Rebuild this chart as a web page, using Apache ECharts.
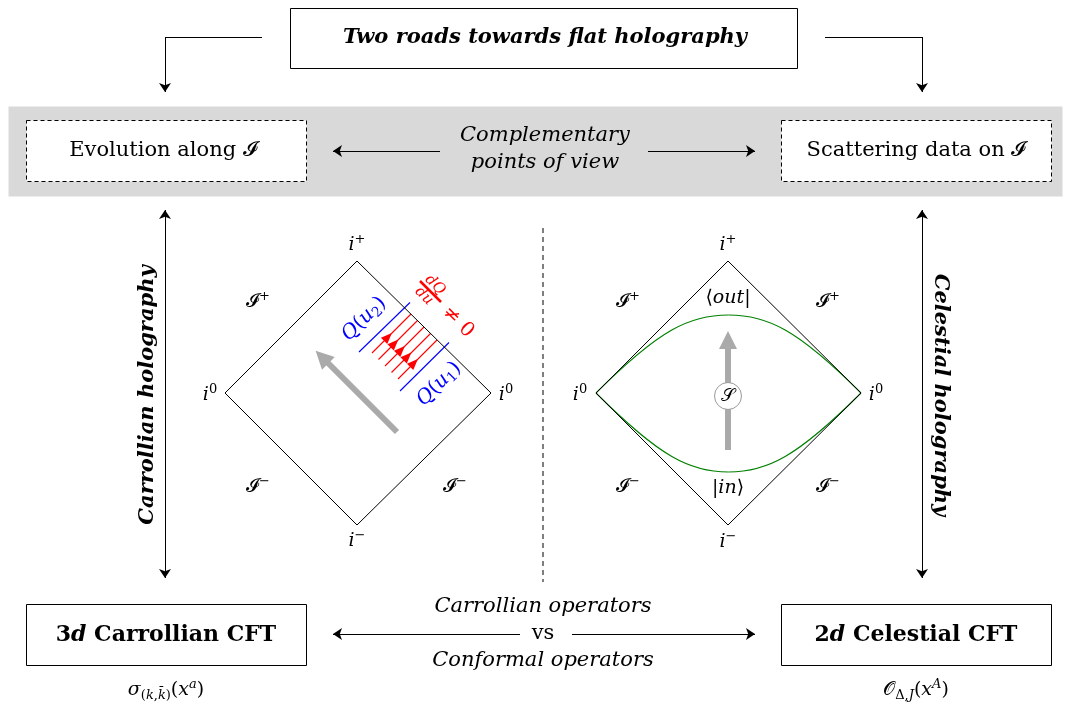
<!DOCTYPE html>
<html>
<head>
<meta charset="utf-8">
<script src="https://cdn.jsdelivr.net/npm/echarts@6/dist/echarts.min.js"></script>
<style>
  html, body { margin: 0; padding: 0; background: #fff; }
  #chart { width: 1070px; height: 706px; }
</style>
</head>
<body>
<div id="chart"></div>
<script>
// boxes: [x0, y0, x1, y1] in picture units
const bandBoxes = [[8, 106, 1062, 196]];
const solidBoxes = [[290, 8, 797, 68], [26, 604, 306, 665], [781, 604, 1051, 665]];
const dashedBoxes = [[26, 120, 306, 181], [781, 120, 1051, 181]];

// plain segments and arrows: [[x, y], [x, y]]
const plainSegments = [
  [[262, 37], [165, 37]],
  [[825, 37], [922, 37]]
];
const singleArrows = [
  [[165, 37], [165, 92]],
  [[922, 37], [922, 92]],
  [[440, 151], [333, 151]],
  [[648, 151], [755, 151]],
  [[520, 634], [333, 634]],
  [[572, 634], [755, 634]]
];
const doubleArrows = [
  [[165, 210], [165, 578]],
  [[922, 210], [922, 578]]
];
const dividerLine = [[543, 228], [543, 582]];

// Penrose diamonds
const leftDiamond = [[357, 261], [491, 393], [357, 525], [225, 393], [357, 261]];
const rightDiamond = [[728, 261], [861, 393], [728, 525], [596, 393], [728, 261]];
// lens (bezier pieces): [x0, y0, cx1, cy1, cx2, cy2, x1, y1]
const lensPieces = [
  [596, 393, 660, 329, 690, 315, 728.5, 315],
  [728.5, 315, 767, 315, 797, 329, 861, 393],
  [596, 393, 660, 457, 690, 472, 728.5, 472],
  [728.5, 472, 767, 472, 797, 457, 861, 393]
];

// flux lines between the two cuts
const fieldLines = [
  [[372, 353], [411, 314]],
  [[378.5, 359.5], [417.5, 320.5]],
  [[385, 366], [424, 327]],
  [[391.5, 372.5], [430.5, 333.5]],
  [[398, 379], [437, 340]]
];
const fieldArrowHeads = [[388, 337], [394.5, 343.5], [401, 350], [407.5, 356.5], [414, 363]];
const cutLines = [
  [[359, 352], [410, 302.5]],
  [[400, 391], [449, 342.5]]
];
const fractionBar = [[[420, 281], [441, 302]]];

const greyArrows = [
  [[397, 432], [322, 357]],
  [[728, 450], [728, 340]]
];
const sMatrix = [[728, 396]];

// texts: [x, y, text, role]
const texts = [
  [545, 38, '{t|Two roads towards flat holography}', 'title'],
  [163, 151, '{r|Evolution along }{cal|𝓘}', 'body'],
  [916, 151, '{r|Scattering data on }{cal|𝓘}', 'body'],
  [545, 136, '{m|Complementary}', 'ital'],
  [545, 163, '{m|points of view}', 'ital'],
  [543, 607, '{m|Carrollian operators}', 'ital'],
  [543, 634, '{r|vs}', 'body'],
  [543, 661, '{m|Conformal operators}', 'ital'],
  [166, 635, '{b|3}{bi|d}{b| Carrollian CFT}', 'bold'],
  [916, 635, '{b|2}{bi|d}{b| Celestial CFT}', 'bold'],
  [166, 690, '{m|σ}{subr|(}{subi|k}{subr|,}{subi|k̄}{subr|)}{r|(}{m|x}{supi|a}{r|)}', 'math'],
  [916, 690, '{cal|𝒪}{subr|Δ,}{subi|J}{r|(}{m|x}{supi|A}{r|)}', 'math'],
  [148, 395, '{t|Carrollian holography}', 'up'],
  [940, 395, '{t|Celestial holography}', 'down'],
  // left diamond
  [357, 245, '{m|i}{supr|+}', 'math'],
  [210, 395, '{m|i}{supr|0}', 'math'],
  [506, 395, '{m|i}{supr|0}', 'math'],
  [357, 541, '{m|i}{supr|−}', 'math'],
  [258, 302, '{cal|𝓘}{supr|+}', 'math'],
  [258, 487, '{cal|𝓘}{supr|−}', 'math'],
  [455, 487, '{cal|𝓘}{supr|−}', 'math'],
  [364, 319, '{m|Q}{r|(}{m|u}{subr|2}{r|)}', 'blue'],
  [439, 384, '{m|Q}{r|(}{m|u}{subr|1}{r|)}', 'blue'],
  [435, 285, '{fr|dQ}', 'red'],
  [424, 296, '{fr|du}', 'red'],
  [458, 322, '{r|≠ 0}', 'red'],
  // right diamond
  [728, 245, '{m|i}{supr|+}', 'math'],
  [580, 395, '{m|i}{supr|0}', 'math'],
  [876, 395, '{m|i}{supr|0}', 'math'],
  [728, 542, '{m|i}{supr|−}', 'math'],
  [628, 302, '{cal|𝓘}{supr|+}', 'math'],
  [828, 302, '{cal|𝓘}{supr|+}', 'math'],
  [628, 487, '{cal|𝓘}{supr|−}', 'math'],
  [828, 487, '{cal|𝓘}{supr|−}', 'math'],
  [728, 298, '{r|⟨}{m|out}{r||}', 'math'],
  [728, 488, '{r||}{m|in}{r|⟩}', 'math']
];

const FONT = '"DejaVu Serif", "Liberation Serif", serif';
const CAL = '"DejaVu Sans", "DejaVu Serif", serif';

const roles = {
  title: { fontSize: 21, color: '#000', rotate: 0 },
  body: { fontSize: 21, color: '#000', rotate: 0 },
  bold: { fontSize: 22, color: '#000', rotate: 0 },
  ital: { fontSize: 21, color: '#000', rotate: 0 },
  math: { fontSize: 19, color: '#000', rotate: 0 },
  up: { fontSize: 21, color: '#000', rotate: 90 },
  down: { fontSize: 21, color: '#000', rotate: -90 },
  blue: { fontSize: 20, color: '#0000ff', rotate: 45 },
  red: { fontSize: 20, color: '#ff0000', rotate: -45 }
};

// rich token styles, coloured per role
function richFor(size, color) {
  const sub = Math.round(size * 0.68);
  const base = { fontFamily: FONT, fontSize: size, lineHeight: 24, color: color };
  const mk = o => Object.assign({}, base, o);
  return {
    t: mk({ fontStyle: 'italic', fontWeight: 'bold' }),
    m: mk({ fontStyle: 'italic', fontWeight: 'normal' }),
    r: mk({ fontStyle: 'normal', fontWeight: 'normal' }),
    b: mk({ fontStyle: 'normal', fontWeight: 'bold' }),
    bi: mk({ fontStyle: 'italic', fontWeight: 'bold' }),
    cal: mk({ fontStyle: 'normal', fontWeight: 'normal', fontFamily: CAL }),
    fr: mk({ fontStyle: 'italic', fontSize: 15, lineHeight: 15 }),
    supr: mk({ fontStyle: 'normal', fontSize: sub, lineHeight: 14, verticalAlign: 'top' }),
    supi: mk({ fontStyle: 'italic', fontSize: sub, lineHeight: 14, verticalAlign: 'top' }),
    subr: mk({ fontStyle: 'normal', fontSize: sub, lineHeight: 10, verticalAlign: 'bottom' }),
    subi: mk({ fontStyle: 'italic', fontSize: sub, lineHeight: 10, verticalAlign: 'bottom' })
  };
}

function rectSeries(boxes, style, z) {
  return {
    type: 'custom',
    coordinateSystem: 'cartesian2d',
    silent: true,
    z: z,
    encode: { x: [0, 2], y: [1, 3] },
    data: boxes,
    renderItem: (params, api) => {
      const p0 = api.coord([api.value(0), api.value(1)]);
      const p1 = api.coord([api.value(2), api.value(3)]);
      return {
        type: 'rect',
        shape: { x: p0[0] + 0.5, y: p0[1] + 0.5, width: p1[0] - p0[0], height: p1[1] - p0[1] },
        style: style
      };
    }
  };
}

function bezierSeries(pieces, color, width) {
  return {
    type: 'custom',
    coordinateSystem: 'cartesian2d',
    silent: true,
    z: 3,
    encode: { x: [0, 6], y: [1, 7] },
    data: pieces,
    renderItem: (params, api) => {
      const a = api.coord([api.value(0), api.value(1)]);
      const c1 = api.coord([api.value(2), api.value(3)]);
      const c2 = api.coord([api.value(4), api.value(5)]);
      const b = api.coord([api.value(6), api.value(7)]);
      return {
        type: 'bezierCurve',
        shape: { x1: a[0], y1: a[1], cpx1: c1[0], cpy1: c1[1], cpx2: c2[0], cpy2: c2[1], x2: b[0], y2: b[1] },
        style: { stroke: color, lineWidth: width, fill: null }
      };
    }
  };
}

function segSeries(segs, color, width, symbol, size, z) {
  return {
    type: 'lines',
    coordinateSystem: 'cartesian2d',
    silent: true,
    z: z || 3,
    symbol: symbol || ['none', 'none'],
    symbolSize: size || 9,
    lineStyle: { color: color, width: width, opacity: 1, curveness: 0 },
    data: segs.map(c => ({ coords: c }))
  };
}

function pathSeries(points, color, width, opts) {
  return Object.assign({
    type: 'line',
    silent: true,
    z: 3,
    showSymbol: false,
    symbol: 'none',
    lineStyle: { color: color, width: width },
    data: points
  }, opts || {});
}

const textSeries = {
  type: 'scatter',
  silent: true,
  z: 10,
  symbolSize: 0,
  data: texts.map(t => {
    const r = roles[t[3]];
    return {
      value: [t[0], t[1]],
      label: {
        show: true,
        position: 'inside',
        formatter: t[2],
        fontFamily: FONT,
        fontSize: r.fontSize,
        color: r.color,
        opacity: 1,
        textBorderWidth: 0,
        rotate: r.rotate,
        lineHeight: 24,
        align: 'center',
        verticalAlign: 'middle',
        rich: richFor(r.fontSize, r.color)
      }
    };
  })
};

const chart = echarts.init(document.getElementById('chart'), null, { renderer: 'canvas' });
chart.setOption({
  animation: false,
  backgroundColor: '#fff',
  grid: { left: 0, right: 0, top: 0, bottom: 0 },
  xAxis: { type: 'value', min: 0, max: 1070, show: false },
  yAxis: { type: 'value', min: 0, max: 706, inverse: true, show: false },
  series: [
    rectSeries(bandBoxes, { fill: '#d9d9d9', stroke: null }, 1),
    rectSeries(solidBoxes, { fill: '#fff', stroke: '#000', lineWidth: 1 }, 2),
    rectSeries(dashedBoxes, { fill: '#fff', stroke: '#000', lineWidth: 1, lineDash: [4, 3] }, 2),
    segSeries(plainSegments, '#000', 1),
    segSeries(singleArrows, '#000', 1, ['none', 'arrow'], 9),
    segSeries(doubleArrows, '#000', 1, ['arrow', 'arrow'], 9),
    pathSeries(dividerLine, '#000', 1, { lineStyle: { color: '#000', width: 1, type: [5, 4] } }),
    pathSeries(leftDiamond, '#000', 1),
    pathSeries(rightDiamond, '#000', 1),
    bezierSeries(lensPieces, '#008000', 1.2),
    segSeries(fieldLines, '#ff0000', 1.1),
    segSeries(cutLines, '#0000ff', 1.1),
    segSeries(fractionBar, '#ff0000', 2.5),
    {
      type: 'scatter',
      silent: true,
      z: 4,
      symbol: 'triangle',
      symbolSize: [9, 11],
      symbolRotate: -45,
      itemStyle: { color: '#ff0000', opacity: 1 },
      data: fieldArrowHeads
    },
    segSeries(greyArrows, '#aaaaaa', 6, ['none', 'triangle'], 18, 4),
    {
      type: 'scatter',
      silent: true,
      z: 5,
      symbol: 'circle',
      symbolSize: 27,
      itemStyle: { color: '#fff', borderColor: '#999', borderWidth: 1, opacity: 1 },
      label: { show: true, position: 'inside', formatter: '𝒮', fontFamily: CAL, fontSize: 18, color: '#000' },
      data: sMatrix
    },
    textSeries
  ]
});
</script>
</body>
</html>
